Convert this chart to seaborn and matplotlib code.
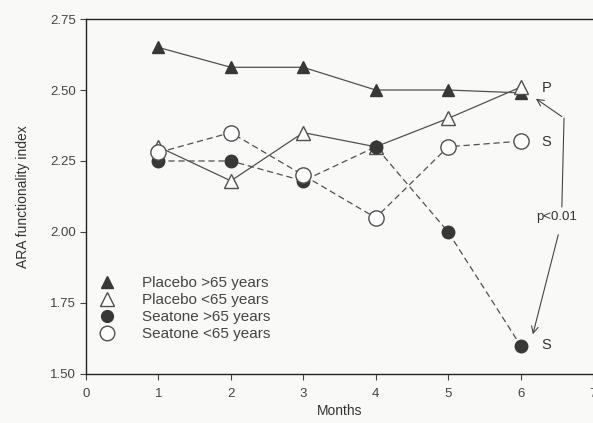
import matplotlib
matplotlib.use("Agg")
import matplotlib.pyplot as plt
import seaborn as sns
import pandas as pd
from matplotlib.lines import Line2D

months = [1, 2, 3, 4, 5, 6]
placebo_over65 = [2.65, 2.58, 2.58, 2.50, 2.50, 2.49]
placebo_under65 = [2.30, 2.18, 2.35, 2.30, 2.40, 2.51]
seatone_over65 = [2.25, 2.25, 2.18, 2.30, 2.00, 1.60]
seatone_under65 = [2.28, 2.35, 2.20, 2.05, 2.30, 2.32]
series_names = ["Placebo >65 years", "Placebo <65 years", "Seatone >65 years", "Seatone <65 years"]
y_ticks = [1.50, 1.75, 2.00, 2.25, 2.50, 2.75]
x_ticks = [0, 1, 2, 3, 4, 5, 6, 7]

sns.set_theme(style="ticks")
plt.rcParams['font.family'] = ['Liberation Sans', 'DejaVu Sans']

fig = plt.figure(figsize=(5.93, 4.23), dpi=100, facecolor='#f9f9f7')
ax = fig.add_axes([0.145, 0.116, 0.855, 0.839])
ax.set_facecolor('#f9f9f7')

line_c = '#505050'
dark = '#383838'
styles = [
    dict(marker='^', linestyle='-', mfc=dark, mec=dark, ms=9),
    dict(marker='^', linestyle='-', mfc='white', mec='#505050', ms=10),
    dict(marker='o', linestyle='--', mfc=dark, mec=dark, ms=9),
    dict(marker='o', linestyle='--', mfc='white', mec='#505050', ms=11),
]
all_vals = [placebo_over65, placebo_under65, seatone_over65, seatone_under65]
order = [2, 3, 0, 1]
for i in order:
    df = pd.DataFrame({"Months": months, "value": all_vals[i]})
    st = styles[i]
    sns.lineplot(data=df, x="Months", y="value", ax=ax, color=line_c, linewidth=0.9,
                 linestyle=st['linestyle'], marker=st['marker'], markersize=st['ms'],
                 markerfacecolor=st['mfc'], markeredgecolor=st['mec'], markeredgewidth=1.0,
                 zorder=3 + i, legend=False)
    if st['linestyle'] == '--':
        ax.lines[-1].set_dashes([5, 3])

ax.set_xlim(0, 7)
ax.set_ylim(1.50, 2.75)
ax.set_xticks(x_ticks)
ax.set_yticks(y_ticks)
ax.set_yticklabels([f"{v:.2f}" for v in y_ticks])
ax.tick_params(axis='both', labelsize=9.5, colors='#444444', length=4, width=0.8, direction='out')
ax.tick_params(axis='x', pad=6)
ax.set_xlabel("Months", fontsize=10, color='#333333', labelpad=3)
ax.set_ylabel("ARA functionality index", fontsize=10, color='#333333', labelpad=14)
for s in ['top', 'bottom', 'left']:
    ax.spines[s].set_color('#222222')
    ax.spines[s].set_linewidth(1.0)
ax.spines['right'].set_visible(False)

handles = []
for i in range(4):
    st = styles[i]
    handles.append(Line2D([], [], linestyle='none', marker=st['marker'], markersize=st['ms'] - 0.5,
                          markerfacecolor=st['mfc'], markeredgecolor=st['mec'], markeredgewidth=1.0))
leg = ax.legend(handles, series_names, loc='upper left', bbox_to_anchor=(0.006, 0.293),
                frameon=False, fontsize=11, handletextpad=1.45, handlelength=1.6,
                labelspacing=0.2, borderaxespad=0)
for t in leg.get_texts():
    t.set_color('#444444')

# annotations
ax.text(6.36, 2.507, "P", fontsize=10.5, color='#333333', va='center', ha='center')
ax.text(6.36, 2.317, "S", fontsize=10.5, color='#333333', va='center', ha='center')
ax.text(6.36, 1.602, "S", fontsize=10.5, color='#333333', va='center', ha='center')
ax.text(6.50, 2.053, "p<0.01", fontsize=9.5, color='#333333', va='center', ha='center')
ax.plot([6.57, 6.60], [2.088, 2.401], color='#444444', linewidth=0.8)
ax.annotate("", xy=(6.18, 2.475), xytext=(6.60, 2.401),
            arrowprops=dict(arrowstyle='->', color='#444444', lw=0.8))
ax.annotate("", xy=(6.16, 1.63), xytext=(6.53, 2.0),
            arrowprops=dict(arrowstyle='->', color='#444444', lw=0.8))

fig.savefig("out.png", dpi=100, facecolor=fig.get_facecolor())
